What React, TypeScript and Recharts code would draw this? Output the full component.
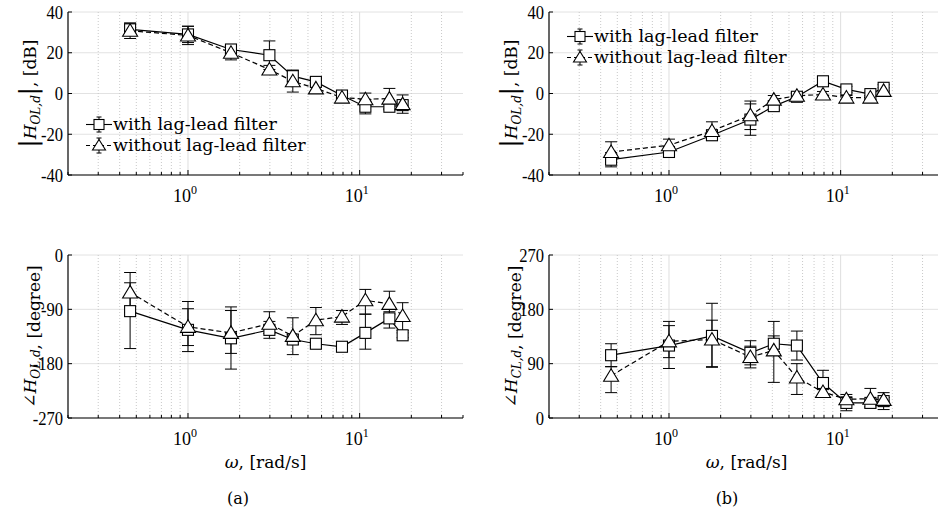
import React from 'react';
import { ComposedChart, Line, XAxis, YAxis, CartesianGrid, ReferenceLine, ErrorBar, Legend } from 'recharts';

// frequencies, rad/s
const freq = [0.46, 1.0, 1.78, 2.98, 4.08, 5.56, 7.89, 10.8, 14.9, 17.8];

// (a) open loop magnitude, dB
const magAWith = [31.5, 29, 21.6, 18.8, 8.5, 5.7, -1, -6.5, -6.5, -5.7];
const magAWithErr = [3, 4, 2, 7, 3, 2, 1.5, 3.5, 1.5, 2];
const magAWithout = [30.8, 28.5, 20, 11.8, 6, 2.5, -2, -2.8, -2.5, -5.2];
const magAWithoutErr = [3.8, 4.5, 3.5, 2, 5.3, 2.5, 1, 3, 5, 4.5];

// (a) open loop phase, degree  (errors: [minus, plus])
const phaseAWith = [-93, -124, -138, -124, -140, -147, -152, -129, -105, -133];
const phaseAWithErr = [[62, 47], [36, 35], [51, 46], [14, 14], [8, 8], [3, 3], [3, 3], [27, 31], [16, 11], [4, 4]];
const phaseAWithout = [-62, -119, -129, -114, -134, -108, -102, -75, -81, -101];
const phaseAWithoutErr = [[33, 33], [31, 42], [34, 43], [16, 20], [31, 30], [24, 21], [13, 10], [23, 18], [17, 21], [24, 22]];

// (b) magnitude, dB
const magBWith = [-32.5, -28.7, -20.5, -12.8, -6.2, -1.6, 6, 2, -0.3, 2.8];
const magBWithErr = [3.5, 2.5, 2.5, 7.7, 1.5, 1.5, 1.5, 1.5, 1, 1.5];
const magBWithout = [-28.7, -25.4, -18.4, -10.7, -3, -1.1, -0.5, -2, -2, 1.3];
const magBWithoutErr = [5, 3, 4.5, 7, 2, 1.5, 1.5, 1, 1, 1.5];

// (b) closed loop phase, degree
const phaseBWith = [104, 120, 136, 108, 123, 120, 58, 25, 25, 28];
const phaseBWithErr = [[19, 19], [38, 33], [51, 54], [20, 20], [13, 13], [24, 24], [20, 21], [13, 10], [6, 6], [6, 6]];
const phaseBWithout = [70, 127, 130, 101, 112, 67, 43, 31, 32, 30];
const phaseBWithoutErr = [[28, 15], [27, 33], [46, 32], [18, 18], [53, 48], [28, 23], [4, 4], [8, 8], [15, 17], [16, 12]];

const seriesNames = ['with lag-lead filter', 'without lag-lead filter'];
const xMajor = [1, 10];
const xMinor = [0.3, 0.4, 0.5, 0.6, 0.7, 0.8, 0.9, 2, 3, 4, 5, 6, 7, 8, 9, 20, 30];
const xTicks = [0.2, 0.3, 0.4, 0.5, 0.6, 0.7, 0.8, 0.9, 1, 2, 3, 4, 5, 6, 7, 8, 9, 10, 20, 30, 40];
const magTicks = [-40, -20, 0, 20, 40];
const phaseOLTicks = [-270, -180, -90, 0];
const phaseCLTicks = [0, 90, 180, 270];

const FONT = "'DejaVu Serif', 'Liberation Serif', serif";
const TICK_FONT = "'Liberation Serif', 'Times New Roman', serif";
const fontStyle = { fontFamily: FONT };

const buildRows = (a: number[], ae: any[], b: number[], be: any[]) =>
  freq.map((w, i) => ({ w, a: a[i], ae: ae[i], b: b[i], be: be[i] }));

const BottomTick = (props: any) => {
  const { x, y, payload } = props;
  const v = payload.value;
  const major = v === 1 || v === 10;
  return (
    <g>
      <line x1={x} x2={x} y1={y} y2={y - (major ? 5 : 3)} stroke="#000" />
      {major && (
        <text x={x - 3} y={y + 27} textAnchor="middle" style={{ fontFamily: TICK_FONT }} fontSize={18} fill="#000">
          10<tspan dy={-8} fontSize={12}>{v === 1 ? '0' : '1'}</tspan>
        </text>
      )}
    </g>
  );
};

const TopTick = (props: any) => {
  const { x, y } = props;
  return <line x1={x} x2={x} y1={y} y2={y + 3} stroke="#000" />;
};

const LeftTick = (props: any) => {
  const { x, y, payload } = props;
  return (
    <g>
      <line x1={x} x2={x + 4} y1={y} y2={y} stroke="#000" />
      <text
        transform={`translate(${x - 5}, ${y + 6.5}) scale(0.85, 1)`}
        textAnchor="end"
        style={{ fontFamily: TICK_FONT }}
        fontSize={19.5}
        fill="#000"
      >
        {payload.value}
      </text>
    </g>
  );
};

const RightTick = (props: any) => {
  const { x, y } = props;
  return <line x1={x} x2={x - 4} y1={y} y2={y} stroke="#000" />;
};

const Square = (props: any) => {
  const { cx, cy, index } = props;
  if (cx == null || cy == null) return <g key={index} />;
  return <rect key={index} x={cx - 5.5} y={cy - 5.5} width={11} height={11} fill="#fff" stroke="#000" strokeWidth={1.1} />;
};

const Triangle = (props: any) => {
  const { cx, cy, index } = props;
  if (cx == null || cy == null) return <g key={index} />;
  return (
    <polygon
      key={index}
      points={`${cx},${cy - 7} ${cx - 7.5},${cy + 5.5} ${cx + 7.5},${cy + 5.5}`}
      fill="#fff"
      stroke="#000"
      strokeWidth={1.1}
    />
  );
};

const makeYLabel = (sub: string, unit: string, abs: boolean) => (props: any) => {
  const vb = props.viewBox;
  const cx = 30;
  const cy = vb.y + vb.height / 2;
  return (
    <text
      transform={`rotate(-90, ${cx}, ${cy})`}
      x={cx}
      y={cy + 6}
      textAnchor="middle"
      style={fontStyle}
      fontSize={17}
      fill="#000"
    >
      {abs ? <tspan fontSize={24}>|</tspan> : <tspan>∠</tspan>}
      <tspan fontStyle="italic">H</tspan>
      <tspan fontStyle="italic" fontSize={12} dy={4}>{sub}</tspan>
      {abs ? <tspan fontSize={24} dy={-4}>|</tspan> : <tspan dy={-4}></tspan>}
      <tspan>{`, [${unit}]`}</tspan>
    </text>
  );
};

const XLabel = (props: any) => {
  const vb = props.viewBox;
  return (
    <text x={vb.x + vb.width / 2} y={vb.y + 50} textAnchor="middle" style={fontStyle} fontSize={17} fill="#000">
      <tspan fontStyle="italic">ω</tspan>, [rad/s]
    </text>
  );
};

const LegendIcon = ({ dashed, triangle }: { dashed: boolean; triangle: boolean }) => (
  <svg width={26} height={21} style={{ display: 'block', marginRight: 1 }}>
    <line x1={0} x2={26} y1={10.5} y2={10.5} stroke="#000" strokeWidth={1.1} strokeDasharray={dashed ? '4 3' : undefined} />
    <line x1={13} x2={13} y1={3} y2={18} stroke="#000" />
    <line x1={10.5} x2={15.5} y1={3} y2={3} stroke="#000" />
    <line x1={10.5} x2={15.5} y1={18} y2={18} stroke="#000" />
    {triangle ? (
      <polygon points="13,4.5 6.5,15 19.5,15" fill="#fff" stroke="#000" strokeWidth={1.1} />
    ) : (
      <rect x={8} y={5.5} width={10} height={10} fill="#fff" stroke="#000" strokeWidth={1.1} />
    )}
  </svg>
);

const LegendBox = () => (
  <div style={{ fontFamily: FONT, fontSize: 17.5, color: '#000', lineHeight: '21px' }}>
    {seriesNames.map((n, i) => (
      <div key={n} style={{ display: 'flex', alignItems: 'center', height: 21, whiteSpace: 'nowrap' }}>
        <LegendIcon dashed={i === 1} triangle={i === 1} />
        <span>{n}</span>
      </div>
    ))}
  </div>
);

type PanelProps = {
  left: number;
  top: number;
  rows: any[];
  domain: [number, number];
  ticks: number[];
  yLabel: (p: any) => React.ReactElement;
  showXLabel?: boolean;
  legendTop?: number;
};

const Panel = ({ left, top, rows, domain, ticks, yLabel, showXLabel, legendTop }: PanelProps) => (
  <div style={{ position: 'absolute', left, top }}>
    <ComposedChart width={470} height={235} data={rows} margin={{ top: 12, right: 7, bottom: 0, left: 0 }}>
      <CartesianGrid vertical={false} stroke="#e2e2e2" />
      {xMinor.map((v) => (
        <ReferenceLine key={'m' + v} x={v} stroke="#c9c9c9" strokeDasharray="1 2" />
      ))}
      {xMajor.map((v) => (
        <ReferenceLine key={'M' + v} x={v} stroke="#dedede" />
      ))}
      <XAxis
        dataKey="w"
        type="number"
        scale="log"
        domain={[0.2, 40]}
        allowDataOverflow
        ticks={xTicks}
        interval={0}
        tickLine={false}
        tickSize={0}
        tickMargin={0}
        tick={<BottomTick />}
        axisLine={{ stroke: '#000', strokeWidth: 1.2 }}
        height={60}
        label={showXLabel ? { content: XLabel } : undefined}
      />
      <XAxis
        xAxisId="top"
        orientation="top"
        dataKey="w"
        type="number"
        scale="log"
        domain={[0.2, 40]}
        allowDataOverflow
        ticks={xTicks}
        interval={0}
        tickLine={false}
        tickSize={0}
        tickMargin={0}
        tick={<TopTick />}
        axisLine={{ stroke: '#000', strokeWidth: 1.2 }}
        height={0}
      />
      <YAxis
        type="number"
        domain={domain}
        allowDataOverflow
        ticks={ticks}
        interval={0}
        tickLine={false}
        tickSize={0}
        tickMargin={0}
        tick={<LeftTick />}
        axisLine={{ stroke: '#000', strokeWidth: 1.2 }}
        width={68}
        label={{ content: yLabel }}
      />
      <YAxis
        yAxisId="r"
        orientation="right"
        type="number"
        domain={domain}
        allowDataOverflow
        ticks={ticks}
        interval={0}
        tickLine={false}
        tickSize={0}
        tickMargin={0}
        tick={<RightTick />}
        axisLine={{ stroke: '#000', strokeWidth: 1.2 }}
        width={0}
      />
      <Line
        dataKey="a"
        name={seriesNames[0]}
        stroke="#000"
        strokeWidth={1.2}
        dot={Square}
        activeDot={false}
        isAnimationActive={false}
      >
        <ErrorBar dataKey="ae" width={6} stroke="#000" strokeWidth={1} direction="y" />
      </Line>
      <Line
        dataKey="b"
        name={seriesNames[1]}
        stroke="#000"
        strokeWidth={1.2}
        strokeDasharray="5 3"
        dot={Triangle}
        activeDot={false}
        isAnimationActive={false}
      >
        <ErrorBar dataKey="be" width={6} stroke="#000" strokeWidth={1} direction="y" />
      </Line>
      {legendTop != null && (
        <Legend
          layout="horizontal"
          verticalAlign="middle"
          align="center"
          content={<LegendBox />}
          wrapperStyle={{ left: 86, top: legendTop, width: 'auto', height: 'auto' }}
        />
      )}
    </ComposedChart>
  </div>
);

export default function App() {
  return (
    <div
      style={{
        position: 'absolute',
        left: 0,
        top: 0,
        width: 938,
        height: 521,
        overflow: 'hidden',
        background: '#fff',
        fontFamily: FONT,
      }}
    >
      <Panel
        left={0}
        top={0}
        rows={buildRows(magAWith, magAWithErr, magAWithout, magAWithoutErr)}
        domain={[-40, 40]}
        ticks={magTicks}
        yLabel={makeYLabel('OL,d', 'dB', true)}
        legendTop={114}
      />
      <Panel
        left={481}
        top={0}
        rows={buildRows(magBWith, magBWithErr, magBWithout, magBWithoutErr)}
        domain={[-40, 40]}
        ticks={magTicks}
        yLabel={makeYLabel('OL,d', 'dB', true)}
        legendTop={26}
      />
      <Panel
        left={0}
        top={243}
        rows={buildRows(phaseAWith, phaseAWithErr, phaseAWithout, phaseAWithoutErr)}
        domain={[-270, 0]}
        ticks={phaseOLTicks}
        yLabel={makeYLabel('OL,d', 'degree', false)}
        showXLabel
      />
      <Panel
        left={481}
        top={243}
        rows={buildRows(phaseBWith, phaseBWithErr, phaseBWithout, phaseBWithoutErr)}
        domain={[0, 270]}
        ticks={phaseCLTicks}
        yLabel={makeYLabel('CL,d', 'degree', false)}
        showXLabel
      />
      <div style={{ position: 'absolute', left: 218, top: 489, width: 40, textAlign: 'center', fontSize: 16 }}>(a)</div>
      <div style={{ position: 'absolute', left: 707, top: 489, width: 40, textAlign: 'center', fontSize: 16 }}>(b)</div>
    </div>
  );
}
